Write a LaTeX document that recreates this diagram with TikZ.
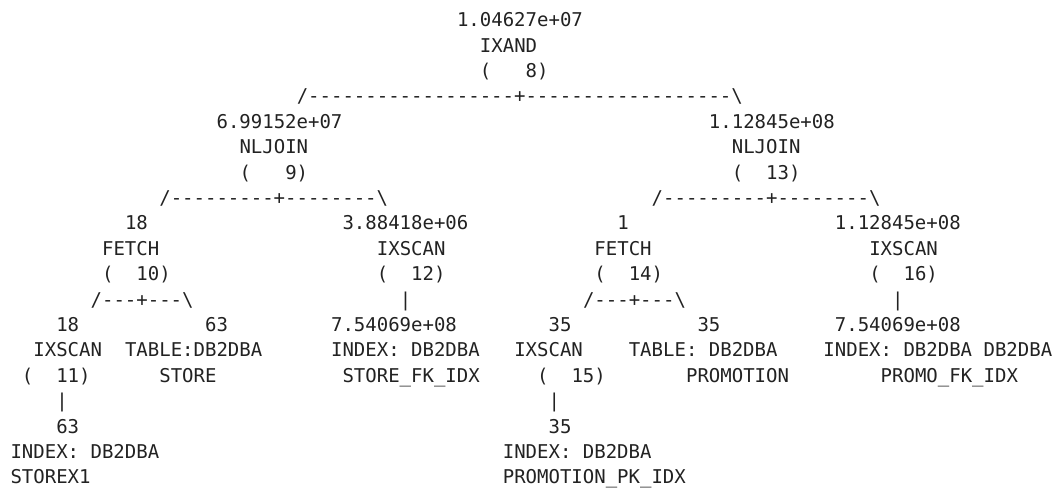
\documentclass[tikz,border=0pt]{standalone}
\usepackage{fontspec}
\setmonofont{DejaVu Sans Mono}
\usepackage{tikz}

\definecolor{inchiostro}{HTML}{222222}
\tikzset{
  riga/.style={anchor=base west, inner sep=0pt, outer sep=0pt, text=inchiostro,
    font=\ttfamily\fontsize{19}{25}\selectfont}
}

\begin{document}
\begin{tikzpicture}[x=11.45pt, y=-25.4pt, every node/.style={riga}]
    \useasboundingbox (-10.5pt,26.7pt) rectangle (1045.5pt,-463.3pt);

    % Radice IXAND (8)
    \node (c8)  at (39,0) {1.04627e+07};
    \node (op8) at (41,1) {IXAND};
    \node (n8)  at (41,2) {(~~~8)};
    \node (r8)  at (25,3) {/------------------+------------------\textbackslash};

    % NLJOIN (9) e (13)
    \node (c9)   at (18,4) {6.99152e+07};
    \node (c13)  at (61,4) {1.12845e+08};
    \node (op9)  at (20,5) {NLJOIN};
    \node (op13) at (63,5) {NLJOIN};
    \node (n9)   at (20,6) {(~~~9)};
    \node (n13)  at (63,6) {(~~13)};
    \node (r9)   at (13,7) {/---------+--------\textbackslash};
    \node (r13)  at (56,7) {/---------+--------\textbackslash};

    % FETCH e IXSCAN
    \node (c10)  at (10,8) {18};
    \node (c12)  at (29,8) {3.88418e+06};
    \node (c14)  at (53,8) {1};
    \node (c16)  at (72,8) {1.12845e+08};
    \node (op10) at (8,9)  {FETCH};
    \node (op12) at (32,9) {IXSCAN};
    \node (op14) at (51,9) {FETCH};
    \node (op16) at (75,9) {IXSCAN};
    \node (n10)  at (8,10)  {(~~10)};
    \node (n12)  at (32,10) {(~~12)};
    \node (n14)  at (51,10) {(~~14)};
    \node (n16)  at (75,10) {(~~16)};
    \node (r10)  at (7,11)  {/---+---\textbackslash};
    \node (r12)  at (34,11) {|};
    \node (r14)  at (50,11) {/---+---\textbackslash};
    \node (r16)  at (77,11) {|};

    % Foglie: tabelle e indici
    \node (c11)  at (4,12)  {18};
    \node (ct10) at (17,12) {63};
    \node (ci12) at (28,12) {7.54069e+08};
    \node (c15)  at (47,12) {35};
    \node (ct14) at (60,12) {35};
    \node (ci16) at (72,12) {7.54069e+08};
    \node (op11) at (2,13)  {IXSCAN};
    \node (t10)  at (10,13) {TABLE:DB2DBA};
    \node (i12)  at (28,13) {INDEX:~DB2DBA};
    \node (op15) at (44,13) {IXSCAN};
    \node (t14)  at (54,13) {TABLE:~DB2DBA};
    \node (i16)  at (71,13) {INDEX:~DB2DBA~DB2DBA};
    \node (n11)  at (1,14)  {(~~11)};
    \node (tn10) at (13,14) {STORE};
    \node (in12) at (29,14) {STORE\_FK\_IDX};
    \node (n15)  at (46,14) {(~~15)};
    \node (tn14) at (59,14) {PROMOTION};
    \node (in16) at (76,14) {PROMO\_FK\_IDX};

    % Indici sotto IXSCAN (11) e (15)
    \node (r11)  at (4,15)  {|};
    \node (r15)  at (47,15) {|};
    \node (ci11) at (4,16)  {63};
    \node (ci15) at (47,16) {35};
    \node (i11)  at (0,17)  {INDEX:~DB2DBA};
    \node (i15)  at (43,17) {INDEX:~DB2DBA};
    \node (in11) at (0,18)  {STOREX1};
    \node (in15) at (43,18) {PROMOTION\_PK\_IDX};
\end{tikzpicture}
\end{document}
